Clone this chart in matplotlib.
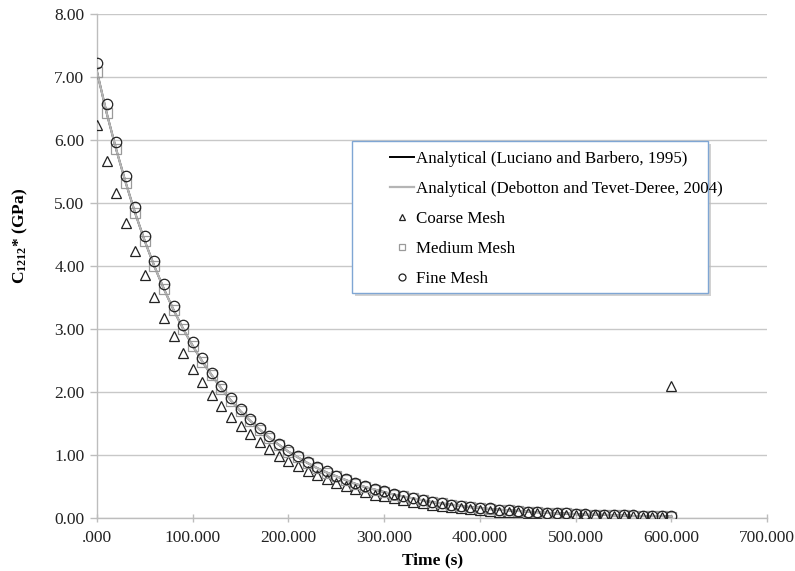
import matplotlib
matplotlib.use("Agg")
import matplotlib.pyplot as plt
from matplotlib.patches import Rectangle
from matplotlib.ticker import FuncFormatter, MultipleLocator

plt.rcParams['font.family'] = ['Liberation Serif', 'DejaVu Serif']
plt.rcParams['mathtext.fontset'] = 'custom'
plt.rcParams['mathtext.rm'] = 'Liberation Serif'
plt.rcParams['mathtext.bf'] = 'Liberation Serif:bold'

# time steps (s)
time = [0, 10, 20, 30, 40, 50, 60, 70, 80, 90,
        100, 110, 120, 130, 140, 150, 160, 170, 180, 190,
        200, 210, 220, 230, 240, 250, 260, 270, 280, 290,
        300, 310, 320, 330, 340, 350, 360, 370, 380, 390,
        400, 410, 420, 430, 440, 450, 460, 470, 480, 490,
        500, 510, 520, 530, 540, 550, 560, 570, 580, 590, 600]

luciano = [7.08, 6.43, 5.85, 5.32, 4.83, 4.39, 3.99, 3.63, 3.30, 3.00,
           2.73, 2.48, 2.26, 2.05, 1.86, 1.69, 1.54, 1.40, 1.27, 1.16,
           1.05, 0.96, 0.87, 0.79, 0.72, 0.66, 0.60, 0.54, 0.49, 0.45,
           0.41, 0.37, 0.34, 0.31, 0.28, 0.25, 0.23, 0.21, 0.19, 0.17,
           0.16, 0.14, 0.13, 0.12, 0.11, 0.10, 0.09, 0.08, 0.07, 0.07,
           0.06, 0.05, 0.05, 0.05, 0.04, 0.04, 0.03, 0.03, 0.03, 0.03, 0.02]

debotton = [7.08, 6.43, 5.85, 5.32, 4.83, 4.39, 3.99, 3.63, 3.30, 3.00,
            2.73, 2.48, 2.26, 2.05, 1.86, 1.69, 1.54, 1.40, 1.27, 1.16,
            1.05, 0.96, 0.87, 0.79, 0.72, 0.66, 0.60, 0.54, 0.49, 0.45,
            0.41, 0.37, 0.34, 0.31, 0.28, 0.25, 0.23, 0.21, 0.19, 0.17,
            0.16, 0.14, 0.13, 0.12, 0.11, 0.10, 0.09, 0.08, 0.07, 0.07,
            0.06, 0.05, 0.05, 0.05, 0.04, 0.04, 0.03, 0.03, 0.03, 0.03, 0.02]

coarse = [6.24, 5.67, 5.15, 4.68, 4.23, 3.85, 3.50, 3.17, 2.88, 2.61,
          2.37, 2.15, 1.95, 1.77, 1.60, 1.46, 1.33, 1.21, 1.09, 0.99,
          0.91, 0.82, 0.75, 0.68, 0.61, 0.56, 0.50, 0.46, 0.41, 0.37,
          0.34, 0.31, 0.28, 0.25, 0.23, 0.21, 0.19, 0.17, 0.15, 0.14,
          0.13, 0.11, 0.10, 0.09, 0.09, 0.08, 0.07, 0.06, 0.06, 0.05,
          0.05, 0.04, 0.04, 0.03, 0.03, 0.03, 0.03, 0.02, 0.02, 0.02, 2.10]

medium = [7.08, 6.43, 5.85, 5.32, 4.83, 4.39, 3.99, 3.63, 3.30, 3.00,
          2.73, 2.48, 2.26, 2.05, 1.86, 1.69, 1.54, 1.40, 1.27, 1.16,
          1.05, 0.96, 0.87, 0.79, 0.72, 0.66, 0.60, 0.54, 0.49, 0.45,
          0.41, 0.37, 0.34, 0.31, 0.28, 0.25, 0.23, 0.21, 0.19, 0.17,
          0.16, 0.14, 0.13, 0.12, 0.11, 0.10, 0.09, 0.08, 0.07, 0.07,
          0.06, 0.05, 0.05, 0.05, 0.04, 0.04, 0.03, 0.03, 0.03, 0.03, 0.02]

fine = [7.22, 6.56, 5.97, 5.43, 4.93, 4.48, 4.08, 3.71, 3.37, 3.06,
        2.79, 2.53, 2.30, 2.09, 1.90, 1.73, 1.57, 1.43, 1.30, 1.18,
        1.08, 0.98, 0.89, 0.81, 0.74, 0.67, 0.61, 0.55, 0.50, 0.46,
        0.42, 0.38, 0.34, 0.31, 0.29, 0.26, 0.24, 0.21, 0.19, 0.18,
        0.16, 0.15, 0.13, 0.12, 0.11, 0.10, 0.09, 0.08, 0.08, 0.07,
        0.06, 0.06, 0.05, 0.05, 0.04, 0.04, 0.04, 0.03, 0.03, 0.03, 0.03]

W, H = 795, 571
fig = plt.figure(figsize=(W / 100, H / 100), dpi=100)
ax = fig.add_axes([0.122, 0.093, 0.843, 0.883])

ax.plot(time, luciano, color='black', lw=1.4, label='Analytical (Luciano and Barbero, 1995)', zorder=3)
ax.plot(time, debotton, color='#b5b5b5', lw=1.6, label='Analytical (Debotton and Tevet-Deree, 2004)', zorder=4)
ax.plot(time, coarse, ls='none', marker='^', ms=7, mfc='none', mec='#222222', mew=0.9,
        label='Coarse Mesh', zorder=5)
ax.plot(time, medium, ls='none', marker='s', ms=7, mfc='none', mec='#9a9a9a', mew=0.9,
        label='Medium Mesh', zorder=5)
ax.plot(time, fine, ls='none', marker='o', ms=7.5, mfc='none', mec='#222222', mew=0.9,
        label='Fine Mesh', zorder=6)

ax.set_xlim(0, 700)
ax.set_ylim(0, 8)
ax.xaxis.set_major_locator(MultipleLocator(100))
ax.yaxis.set_major_locator(MultipleLocator(1))
ax.xaxis.set_major_formatter(FuncFormatter(lambda v, p: ('%.3f' % v).lstrip('0') if v == 0 else '%.3f' % v))
ax.yaxis.set_major_formatter(FuncFormatter(lambda v, p: '%.2f' % v))

ax.grid(axis='y', color='#c8c8c8', lw=1.0)
ax.set_axisbelow(True)
for s in ['top', 'right']:
    ax.spines[s].set_visible(False)
for s in ['left', 'bottom']:
    ax.spines[s].set_color('#bdbdbd')
    ax.spines[s].set_linewidth(1.0)
ax.tick_params(axis='both', labelsize=12.5, colors='#bdbdbd', labelcolor='#222222', width=1.0)
ax.tick_params(axis='y', length=5, pad=4)
ax.tick_params(axis='x', direction='inout', length=6, pad=6)

ax.set_xlabel('Time (s)', fontsize=12.5, fontweight='bold', labelpad=4)
ax.set_ylabel(r'$\mathbf{C_{1212}}$* (GPa)', fontsize=12.5, fontweight='bold')
ax.yaxis.set_label_coords(-0.1, 0.56)

# legend box with a drop shadow, drawn in pixel positions of the figure
x0, y0, x1, y1 = 352, 141, 708, 293
shadow = Rectangle(((x0 + 3) / W, 1 - (y1 + 3) / H), (x1 - x0) / W, (y1 - y0) / H,
                   transform=fig.transFigure, facecolor='#bfbfbf', edgecolor='none',
                   alpha=0.7, zorder=7, clip_on=False)
frame = Rectangle((x0 / W, 1 - y1 / H), (x1 - x0) / W, (y1 - y0) / H,
                  transform=fig.transFigure, facecolor='white', edgecolor='#7fa6d4',
                  lw=1.0, zorder=8, clip_on=False)
ax.add_artist(shadow)
ax.add_artist(frame)

leg = ax.legend(loc='upper left', bbox_to_anchor=(390 / W, 1 - 151 / H), bbox_transform=fig.transFigure,
                fontsize=12.2, frameon=False, handlelength=1.4, handletextpad=0.15,
                labelspacing=0.83, borderpad=0, borderaxespad=0)
leg.set_zorder(9)
for h in leg.legend_handles[2:]:
    h.set_markersize(5)

fig.savefig('out.png', dpi=100)
